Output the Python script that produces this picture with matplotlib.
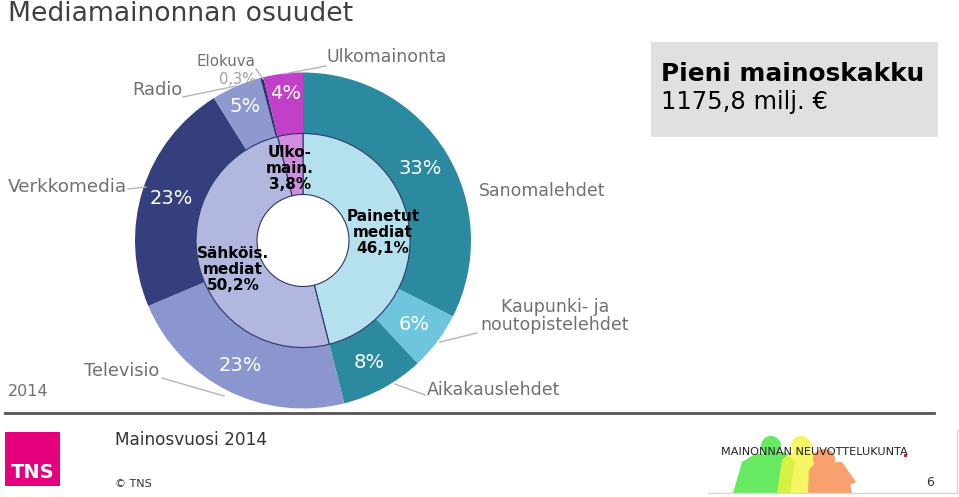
import numpy as np
import matplotlib
matplotlib.use("Agg")
import matplotlib.pyplot as plt
from matplotlib.patches import Rectangle, Ellipse, Polygon

# ---------------- data ----------------
outer_names = ["Sanomalehdet", "Kaupunki- ja\nnoutopistelehdet", "Aikakauslehdet",
               "Televisio", "Verkkomedia", "Radio", "Elokuva", "Ulkomainonta"]
outer_values = [32.5, 5.6, 8.0, 22.6, 22.5, 4.8, 0.3, 3.8]
outer_labels = ["33%", "6%", "8%", "23%", "23%", "5%", "0,3%", "4%"]
outer_colors = ["#2b8a9f", "#6dc6dd", "#2b8a9f", "#8b96cf", "#353f7e",
                "#8e99d0", "#2b3470", "#c23fc7"]

inner_names = ["Painetut\nmediat", "Sähköis.\nmediat", "Ulko-\nmain."]
inner_values = [46.1, 50.2, 3.8]
inner_labels = ["46,1%", "50,2%", "3,8%"]
inner_colors = ["#b4e1ed", "#b2b7df", "#d18ee0"]

total_title = "Pieni mainoskakku"
total_value = "1175,8 milj. €"

W, H = 959, 497
fig = plt.figure(figsize=(W / 100, H / 100), dpi=100)
fig.patch.set_facecolor("white")

# pie axes, units = pixels, centred at (303, 240.5)
cx, cy, half = 303, 240.5, 175
pax = fig.add_axes([(cx - half) / W, (H - cy - half) / H, 2 * half / W, 2 * half / H])

R_out, R_in, R_hole = 168, 107, 46

wedges_o, _ = pax.pie(outer_values, radius=R_out, colors=outer_colors, startangle=90,
                      counterclock=False, wedgeprops=dict(width=R_out - R_in, linewidth=0))
wedges_i, _ = pax.pie(inner_values, radius=R_in, colors=inner_colors, startangle=90,
                      counterclock=False,
                      wedgeprops=dict(width=R_in - R_hole, linewidth=0.8, edgecolor="#2d3566"))
pax.set_xlim(-half, half)
pax.set_ylim(-half, half)
pax.set_aspect("equal")
pax.axis("off")

def mid_angle(w):
    return np.deg2rad((w.theta1 + w.theta2) / 2)

# outer % labels (white)
label_r = [137, 139, 139, 140, 138, 146, None, 148]
for w, lab, r in zip(wedges_o, outer_labels, label_r):
    if r is None:
        continue
    a = mid_angle(w)
    pax.text(r * np.cos(a), r * np.sin(a), lab, color="white", fontsize=14,
             ha="center", va="center")

# inner bold labels
inner_pos = [(80, 8), (-70, -29), (-13, 72)]
for (x, y), n, lab in zip(inner_pos, inner_names, inner_labels):
    pax.text(x, y, n + "\n" + lab, ha="center", va="center", fontsize=11,
             fontweight="bold", color="black", linespacing=1.1)

# ---------------- overlay axes in pixel coordinates ----------------
ax = fig.add_axes([0, 0, 1, 1], zorder=-1)
ax.set_xlim(0, W)
ax.set_ylim(H, 0)
ax.axis("off")
ov = fig.add_axes([0, 0, 1, 1], zorder=5)
ov.set_xlim(0, W)
ov.set_ylim(H, 0)
ov.axis("off")
ov.patch.set_alpha(0)

gray = "#707070"
lead = "#b4b4b4"

ov.text(8, 14, "Mediamainonnan osuudet", fontsize=19.2, color="#404040", va="center", ha="left")

# outer name labels with leader lines
ov.text(542, 191, outer_names[0], fontsize=12.5, color=gray, ha="center", va="center")
ov.text(555, 316, outer_names[1], fontsize=12.5, color=gray, ha="center", va="center",
        linespacing=1.05)
ov.plot([477, 440], [333, 342], color=lead, lw=1)
ov.text(494, 390, outer_names[2], fontsize=12.5, color=gray, ha="center", va="center")
ov.plot([425, 395], [395, 384], color=lead, lw=1)
ov.text(122, 371, outer_names[3], fontsize=12.8, color=gray, ha="center", va="center")
ov.plot([162, 224], [378, 396], color=lead, lw=1)
ov.text(67, 187, outer_names[4], fontsize=13.2, color=gray, ha="center", va="center")
ov.plot([128, 146], [189, 187], color=lead, lw=1)
ov.text(157, 90, outer_names[5], fontsize=12.8, color=gray, ha="center", va="center")
ov.plot([183, 236], [97, 86], color=lead, lw=1)
ov.text(226, 62, outer_names[6], fontsize=10.8, color=gray, ha="center", va="center")
ov.text(237, 80, outer_labels[6], fontsize=10.5, color="#a0a0a0", ha="center", va="center")
ov.plot([256, 263], [69, 79], color=lead, lw=1)
ov.text(387, 57, outer_names[7], fontsize=12.5, color=gray, ha="center", va="center")
ov.plot([326, 284], [66, 74], color=lead, lw=1)

# total box
ax.add_patch(Rectangle((651, 42), 287, 95, facecolor="#e0e0e0", edgecolor="none"))
ov.text(661, 74, total_title, fontsize=17.8, fontweight="bold", color="black", va="center")
ov.text(661, 102, total_value, fontsize=17.5, color="black", va="center")

ov.text(8, 391, "2014", fontsize=11.5, color=gray, va="center")

# separator
ov.plot([5, 934], [413, 413], color="#555555", lw=2)

# footer
ax.add_patch(Rectangle((5, 432), 55, 54, facecolor="#e5007d", edgecolor="none"))
ov.text(33, 473, "TNS", fontsize=14, fontweight="bold", color="white", ha="center",
        va="center", family="Liberation Sans Narrow")
ov.text(115, 440, "Mainosvuosi 2014", fontsize=12.2, color="#333333", va="center")
ov.text(115, 484, "© TNS", fontsize=8, color="#333333", va="center")
ov.text(930, 482, "6", fontsize=9, color="#333333", ha="center", va="center")
ov.plot([708, 957], [493, 493], color="#d8d8d8", lw=1)
ov.plot([957, 957], [430, 493], color="#d8d8d8", lw=1)

# logo figures
ax.add_patch(Ellipse((771, 446), 20, 20, facecolor="#5fe85a", edgecolor="none", alpha=0.95))
ax.add_patch(Polygon([(733, 493), (742, 462), (755, 454), (785, 452), (795, 462),
                      (790, 493)], closed=True,
                     facecolor="#5fe85a", edgecolor="none", alpha=0.95))
ax.add_patch(Ellipse((801, 446), 20, 20, facecolor="#f4f33d", edgecolor="none", alpha=0.8))
ax.add_patch(Polygon([(777, 493), (782, 460), (790, 453), (815, 452), (826, 462),
                      (830, 493)], closed=True,
                     facecolor="#f4f33d", edgecolor="none", alpha=0.8))
ax.add_patch(Ellipse((824, 459), 22, 20, facecolor="#f8a06e", edgecolor="none"))
ax.add_patch(Polygon([(808, 493), (809, 470), (815, 463), (842, 462), (856, 482),
                      (850, 485), (852, 493)],
                     closed=True, facecolor="#f8a06e", edgecolor="none"))
ov.text(721, 452, "MAINONNAN NEUVOTTELUKUNTA", fontsize=8.1, color="#222222", va="center")
ov.add_patch(Rectangle((904, 454), 3, 3, facecolor="#d0213a", edgecolor="none"))

fig.savefig("out.png", dpi=100)
